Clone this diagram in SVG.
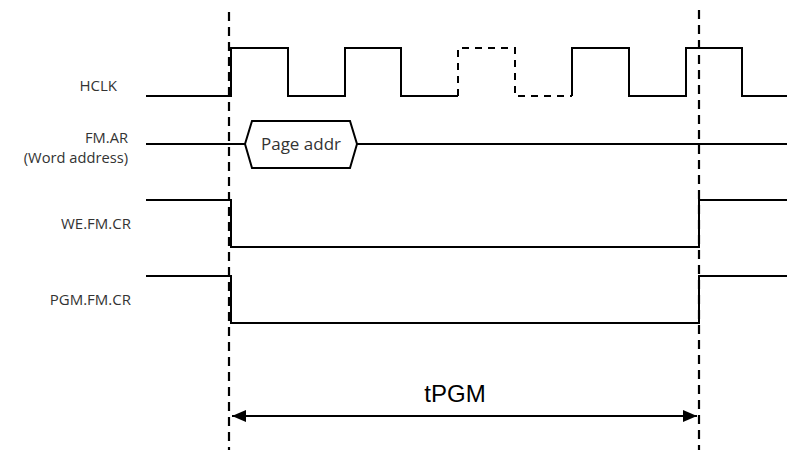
<svg xmlns="http://www.w3.org/2000/svg" width="787" height="450" viewBox="0 0 787 450">
<defs>
<style>
.sig{fill:none;stroke:#000;stroke-width:2;stroke-linejoin:miter}
.dsig{fill:none;stroke:#000;stroke-width:2;stroke-dasharray:7 6}
.vdash{fill:none;stroke:#000;stroke-width:2.2;stroke-dasharray:9 6}
.lbl{font-family:"Open Sans","Noto Sans","DejaVu Sans",sans-serif;font-size:15px;fill:#333;text-anchor:end}
.lbl2{font-family:"Open Sans","Noto Sans","DejaVu Sans",sans-serif;font-size:14.7px;fill:#333;text-anchor:end}
.box{font-family:"Open Sans","Noto Sans","DejaVu Sans",sans-serif;font-size:17px;fill:#333;text-anchor:middle}
.dim{font-family:"Liberation Sans",Arial,sans-serif;font-size:24px;fill:#000;text-anchor:middle}
</style>
<marker id="ah" viewBox="0 0 14 12" refX="14" refY="6" markerWidth="14" markerHeight="12" markerUnits="userSpaceOnUse" orient="auto-start-reverse">
<path d="M0,0 L14,6 L0,12 Z" fill="#000"/>
</marker>
</defs>
<rect width="787" height="450" fill="#fff"/>
<g id="guides">
<line class="vdash" x1="229" y1="12" x2="229" y2="450"/>
<line class="vdash" x1="699" y1="10" x2="699" y2="450"/>
</g>
<g id="hclk">
<text class="lbl" x="117" y="91">HCLK</text>
<path class="sig" d="M146,96 H231 V48 H288 V96 H345 V48 H401 V96 H458"/>
<path class="dsig" d="M458,96 V48 H515 V96 H572"/>
<path class="sig" d="M572,96 V48 H629 V96 H686 V48 H742 V96 H787"/>
</g>
<g id="fmar">
<text class="lbl2" x="128" y="143">FM.AR</text>
<text class="lbl2" x="128" y="163">(Word address)</text>
<path class="sig" d="M146,144 H245"/>
<path class="sig" d="M245,144 L252,121 H350 L357,144 L350,168 H252 Z"/>
<path class="sig" d="M357,144 H787"/>
<text class="box" x="301" y="150">Page addr</text>
</g>
<g id="wefmcr">
<text class="lbl" x="131" y="229">WE.FM.CR</text>
<path class="sig" d="M146,200 H231 V247 H699 V200 H787"/>
</g>
<g id="pgmfmcr">
<text class="lbl" x="131" y="305">PGM.FM.CR</text>
<path class="sig" d="M146,276 H231 V323 H699 V276 H787"/>
</g>
<g id="connectors">
<line x1="232" y1="416" x2="697" y2="416" stroke="#000" stroke-width="2" marker-start="url(#ah)" marker-end="url(#ah)"/>
<text class="dim" x="455" y="402">tPGM</text>
</g>
</svg>
